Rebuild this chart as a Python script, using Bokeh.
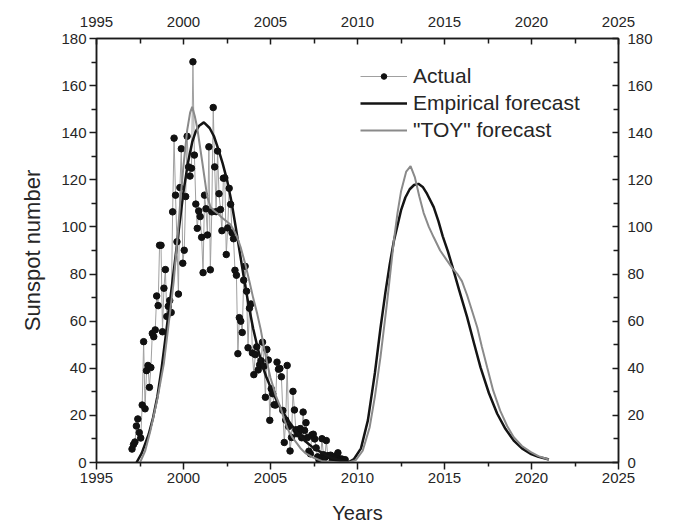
from bokeh.plotting import figure
from bokeh.models import LinearAxis, Range1d, FixedTicker, Legend, LegendItem
from bokeh.embed import file_html
from bokeh.resources import INLINE

# ---------------- data ----------------
actual_start_year = 1997
# monthly sunspot numbers, Jan 1997 onwards
actual_values = [
    5.7, 7.6, 8.7, 15.5, 18.5, 12.7, 10.4, 24.4, 51.3, 22.8, 39.0, 41.2,
    31.9, 40.3, 54.8, 53.4, 56.3, 70.7, 66.6, 92.2, 92.2, 55.5, 74.0, 81.9,
    62.0, 66.3, 68.8, 63.7, 106.4, 137.7, 113.5, 93.7, 71.5, 116.7, 133.2, 84.6,
    90.1, 112.9, 138.5, 125.5, 121.6, 124.9, 170.1, 130.5, 109.7, 99.4, 106.8, 104.4,
    95.6, 80.6, 113.5, 107.7, 96.6, 134.0, 81.8, 106.4, 150.7, 125.5, 106.5, 132.2,
    114.1, 107.4, 98.4, 120.7, 120.8, 88.3, 99.6, 116.4, 109.6, 97.5, 95.0, 81.6,
    79.5, 46.2, 61.5, 60.0, 55.2, 77.4, 83.3, 72.7, 48.7, 65.5, 67.3, 46.5,
    37.3, 45.8, 49.1, 39.3, 41.5, 43.2, 51.1, 40.9, 27.7, 48.0, 43.5, 17.9,
    31.3, 29.2, 24.5, 24.4, 42.6, 39.6, 39.9, 36.4, 22.1, 8.5, 18.0, 41.2,
    15.3, 4.9, 10.6, 30.2, 22.3, 13.9, 12.2, 12.9, 14.4, 10.5, 21.4, 13.6,
    16.9, 10.6, 4.8, 3.7, 11.7, 12.0, 10.0, 6.2, 2.4, 0.9, 1.7, 10.1,
    3.3, 2.1, 9.3, 2.9, 2.9, 3.1, 0.5, 0.5, 1.1, 2.9, 4.1, 0.8,
    1.5, 1.4, 0.7, 1.2,
]
actual_years = [actual_start_year + (i + 0.5) / 12.0 for i in range(len(actual_values))]

empirical_years = [
    1997.3, 1997.6, 1998.0, 1998.25, 1998.5, 1998.75, 1999.0, 1999.25, 1999.5, 1999.75,
    2000.0, 2000.25, 2000.5, 2000.7, 2000.9, 2001.17, 2001.5, 2001.75, 2002.0, 2002.25,
    2002.5, 2002.75, 2003.0, 2003.25, 2003.5, 2003.75, 2004.0, 2004.25, 2004.5, 2004.75,
    2005.0, 2005.5, 2006.0, 2006.5, 2007.0, 2007.5, 2008.0, 2008.5, 2009.0, 2009.45,
    2009.8, 2010.2, 2010.6, 2011.0, 2011.32, 2011.6, 2011.85, 2012.09, 2012.5, 2012.75,
    2013.0, 2013.25, 2013.5, 2013.75, 2014.0, 2014.38, 2014.65, 2014.9, 2015.2, 2015.44,
    2015.85, 2016.3, 2016.7, 2017.07, 2017.55, 2018.03, 2018.5, 2018.98, 2019.45, 2019.94,
    2020.4, 2020.9, 2021.0,
]
empirical_values = [
    0, 4, 12, 19, 28, 40.5, 55, 70, 85, 100,
    115, 127, 136, 140.5, 143, 144.4, 142, 138.5, 133, 127,
    120, 111, 100, 88.5, 77, 66.5, 57, 49, 42, 36.5,
    32, 24, 18, 13, 9, 6, 4, 2, 1, 0,
    1.5, 6, 18, 38, 57, 72, 84, 94, 107, 112.5,
    116, 117.8, 118.3, 117, 114, 108.4, 102.5, 96, 89.5, 83.6,
    73, 61.7, 50.5, 40.4, 29.5, 20.7, 14.3, 9.3, 6, 3.7,
    2.4, 1.5, 1.3,
]

toy_years = [
    1997.5, 1997.8, 1998.1, 1998.5, 1998.87, 1999.2, 1999.44, 1999.65, 1999.83, 2000.0,
    2000.21, 2000.38, 2000.5, 2000.65, 2000.79, 2001.07, 2001.36, 2001.55, 2001.74, 2002.0,
    2002.2, 2002.45, 2002.7, 2002.9, 2003.09, 2003.3, 2003.56, 2003.8, 2004.0, 2004.24,
    2004.45, 2004.62, 2004.8, 2005.0, 2005.3, 2005.57, 2005.8, 2006.0, 2006.25, 2006.53,
    2006.75, 2007.0, 2007.49, 2008.0, 2009.0, 2009.5,
    2009.9, 2010.3, 2010.7, 2011.0, 2011.32, 2011.7, 2012.09, 2012.3, 2012.5, 2012.8,
    2013.05, 2013.3, 2013.55, 2013.8, 2014.1, 2014.38, 2014.75, 2015.15, 2015.45, 2015.73,
    2016.0, 2016.3, 2016.6, 2016.88, 2017.15, 2017.45, 2017.8, 2018.2, 2018.6, 2018.98,
    2019.45, 2019.94, 2020.4, 2020.9, 2021.0,
]
toy_values = [
    0, 5, 13.6, 27, 42, 62, 77, 95, 112, 126,
    141, 148.5, 151, 147, 142, 128, 113, 108.5, 107, 105.5,
    104, 102.5, 101, 98.5, 95.6, 91, 84, 76.5, 70, 63,
    56, 49, 42.5, 36, 28.5, 23.5, 18, 14, 10.8, 8,
    5.8, 4, 2, 0.5, 0, 0,
    1, 5, 15, 28, 44.7, 68, 94.2, 106, 115, 123.5,
    125.8, 121, 113, 106, 100, 95.6, 90, 85.7, 82.5, 80.1,
    77, 71, 64, 57.4, 49, 40.4, 30.5, 22, 15.5, 10.7,
    7, 4.5, 2.7, 1.5, 1.3,
]

x_ticks = [1995, 2000, 2005, 2010, 2015, 2020, 2025]
x_minor = [1997.5, 2002.5, 2007.5, 2012.5, 2017.5, 2022.5]
y_ticks = [0, 20, 40, 60, 80, 100, 120, 140, 160, 180]
y_minor = [10, 30, 50, 70, 90, 110, 130, 150, 170]

# ---------------- figure ----------------
FONT = "Liberation Sans"
TXT = "#262626"

p = figure(width=674, height=526, output_backend="svg", toolbar_location=None,
           x_range=Range1d(1995, 2025), y_range=Range1d(0, 180),
           x_axis_location=None, y_axis_location=None,
           min_border_left=96, min_border_right=56, min_border_top=38, min_border_bottom=64)
p.grid.visible = False
p.outline_line_color = "#1a1a1a"
p.outline_line_width = 1.5
p.background_fill_color = "white"
p.border_fill_color = "white"

def style_axis(ax, ticks, minor, tick_in, tick_out, minor_in, minor_out, standoff):
    ax.ticker = FixedTicker(ticks=ticks, minor_ticks=minor)
    ax.axis_line_color = "#1a1a1a"
    ax.axis_line_width = 1.5
    ax.major_tick_line_color = "#1a1a1a"
    ax.minor_tick_line_color = "#1a1a1a"
    ax.major_tick_line_width = 1.5
    ax.minor_tick_line_width = 1.5
    ax.major_tick_in = tick_in
    ax.major_tick_out = tick_out
    ax.minor_tick_in = minor_in
    ax.minor_tick_out = minor_out
    ax.major_label_text_font = FONT
    ax.major_label_text_font_size = "15px"
    ax.major_label_text_color = TXT
    ax.major_label_standoff = standoff
    ax.axis_label_text_font = FONT
    ax.axis_label_text_font_size = "20px"
    ax.axis_label_text_font_style = "normal"
    ax.axis_label_text_color = TXT

bottom = LinearAxis(axis_label="Years")
style_axis(bottom, x_ticks, x_minor, 0, 7, 0, 4, 3)
bottom.axis_label_standoff = 16
p.add_layout(bottom, "below")

top = LinearAxis()
style_axis(top, x_ticks, x_minor, 6, 0, 5, 0, 12)
p.add_layout(top, "above")

left = LinearAxis(axis_label="Sunspot number")
style_axis(left, y_ticks, y_minor, 0, 7, 0, 5, 3)
left.axis_label_standoff = 13
left.axis_label_text_font_size = "22px"
p.add_layout(left, "left")

right = LinearAxis()
style_axis(right, y_ticks, y_minor, 6, 0, 5, 0, 9)
p.add_layout(right, "right")

r_act_line = p.line(actual_years, actual_values, line_color="#a0a0a0", line_width=1)
r_act_pts = p.scatter(actual_years, actual_values, size=6.5, fill_color="#111111",
                      line_color="#111111")
r_emp = p.line(empirical_years, empirical_values, line_color="#141414", line_width=2.5)
r_toy = p.line(toy_years, toy_values, line_color="#8a8a8a", line_width=2)

legend = Legend(items=[
    LegendItem(label="Actual", renderers=[r_act_line, r_act_pts]),
    LegendItem(label="Empirical forecast", renderers=[r_emp]),
    LegendItem(label="\"TOY\" forecast", renderers=[r_toy]),
], location=(264, 319))
legend.border_line_color = None
legend.background_fill_alpha = 0
legend.padding = 0
legend.margin = 0
legend.spacing = 0
legend.glyph_width = 47
legend.glyph_height = 14
legend.label_height = 27
legend.label_standoff = 6
legend.label_text_font = FONT
legend.label_text_font_size = "21px"
legend.label_text_color = TXT
p.add_layout(legend, "center")

open("out.html", "w").write(file_html(p, INLINE))
